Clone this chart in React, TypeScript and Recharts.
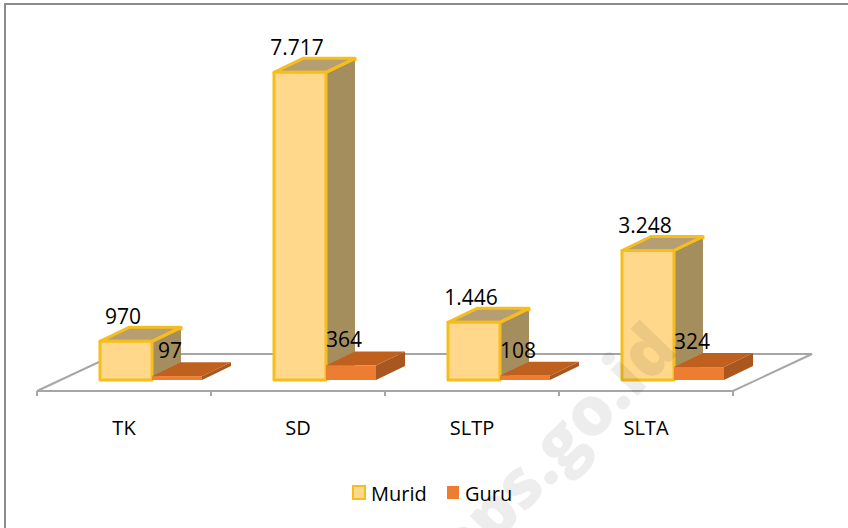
import { Bar, BarChart, LabelList, Legend, XAxis, YAxis, usePlotArea } from 'recharts'

const categories = ['TK', 'SD', 'SLTP', 'SLTA']
const muridValues = [970, 7717, 1446, 3248]
const guruValues = [97, 364, 108, 324]

const chartData = categories.map((name, i) => ({
  name,
  murid: muridValues[i],
  guru: guruValues[i],
}))

const FONT = '"Open Sans", sans-serif'
const depthX = 29
const depthY = -14
// the boxes stand in the middle of the floor, not on its front edge
const floorShift = 27

const muridColors = { front: '#FFD88C', side: '#A58E5E', top: '#B59E72', stroke: '#F6BE1C' }
const guruColors = { front: '#ED7D31', side: '#A9561F', top: '#C0601F', stroke: 'none' }

type BoxColors = typeof muridColors

function makeBox(colors: BoxColors) {
  return function Box(props: any) {
    const { x, y, width, height } = props
    const left = x + floorShift
    const right = left + width
    const bottom = y + height
    const line = colors.stroke === 'none' ? 0 : 3
    return (
      <g stroke={colors.stroke} strokeWidth={line} strokeLinejoin="round">
        <polygon
          points={`${right},${y} ${right + depthX},${y + depthY} ${right + depthX},${bottom + depthY} ${right},${bottom}`}
          fill={colors.side}
          stroke="none"
        />
        <polygon
          points={`${left},${y} ${left + depthX},${y + depthY} ${right + depthX},${y + depthY} ${right},${y}`}
          fill={colors.top}
        />
        <line x1={right} y1={y} x2={right + depthX} y2={y + depthY} />
        <line x1={right + depthX} y1={y + depthY} x2={right + depthX} y2={y + depthY + 3} />
        <rect x={left} y={y} width={width} height={height} fill={colors.front} />
      </g>
    )
  }
}

function makeValueLabel(shiftX: number, shiftY: number) {
  return function ValueLabel(props: any) {
    const { x, y, width, value } = props
    return (
      <text
        x={x + width / 2 + shiftX}
        y={y + shiftY}
        textAnchor="middle"
        dominantBaseline="central"
        fontFamily={FONT}
        fontSize={21}
        fill="#000"
      >
        {Number(value).toLocaleString('de-DE')}
      </text>
    )
  }
}

function Floor() {
  const plot = usePlotArea()
  if (!plot) return null
  const left = plot.x
  const right = plot.x + plot.width
  const front = plot.y + plot.height
  const back = front - 37
  const skew = 79
  const step = plot.width / categories.length
  return (
    <g stroke="#A6A6A6" strokeWidth={2} fill="none">
      <polyline points={`${left},${front} ${left + skew},${back} ${right + skew},${back} ${right},${front} ${left},${front}`} />
      {[0, 1, 2, 3, 4].map((i) => (
        <line key={i} x1={left + i * step} y1={front} x2={left + i * step} y2={front + 5} />
      ))}
    </g>
  )
}

// sits over the chart, the bars show through it
function Watermark() {
  return (
    <svg
      width={848}
      height={528}
      style={{ position: 'absolute', left: 0, top: 0, pointerEvents: 'none' }}
    >
      <text
        x={680}
        y={352}
        textAnchor="end"
        transform="rotate(-46 680 352)"
        fontFamily={FONT}
        fontWeight={800}
        fontSize={68}
        fill="#000"
        fillOpacity={0.07}
      >
        bps.go.id
      </text>
    </svg>
  )
}

function LegendRow() {
  const items = [
    { label: 'Murid', fill: muridColors.front, stroke: muridColors.stroke, swatchX: 352, textX: 371 },
    { label: 'Guru', fill: guruColors.front, stroke: 'none', swatchX: 446, textX: 465 },
  ]
  return (
    <svg width={848} height={40} style={{ display: 'block' }}>
      {items.map((item) => (
        <g key={item.label}>
          <rect
            x={item.swatchX + 1}
            y={7}
            width={12}
            height={13}
            fill={item.fill}
            stroke={item.stroke}
            strokeWidth={2}
          />
          <text x={item.textX} y={14} dominantBaseline="central" fontFamily={FONT} fontSize={20} fill="#000">
            {item.label}
          </text>
        </g>
      ))}
    </svg>
  )
}

export default function App() {
  return (
    <div
      style={{
        position: 'absolute',
        left: 0,
        top: 0,
        width: 848,
        height: 528,
        overflow: 'hidden',
        background: '#fff',
      }}
    >
      <div style={{ position: 'absolute', left: 4, top: 3, width: 844, height: 2, background: '#8C8C8C' }} />
      <div style={{ position: 'absolute', left: 4, top: 3, width: 2, height: 525, background: '#8C8C8C' }} />
      <BarChart
        width={848}
        height={528}
        data={chartData}
        barGap={0}
        barCategoryGap={0}
        margin={{ top: 61, right: 115, bottom: 0, left: 37 }}
      >
        <Floor />
        <XAxis
          dataKey="name"
          axisLine={false}
          tickLine={false}
          tickSize={5}
          height={97}
          tickMargin={25}
          tick={{ fontFamily: FONT, fontSize: 20, fill: '#000' }}
          interval={0}
        />
        <YAxis hide domain={[-276, 8000]} />
        <Bar dataKey="murid" barSize={52} isAnimationActive={false} shape={makeBox(muridColors)}>
          <LabelList dataKey="murid" content={makeValueLabel(24, -25)} />
        </Bar>
        <Bar dataKey="guru" barSize={50} isAnimationActive={false} shape={makeBox(guruColors)}>
          <LabelList dataKey="guru" content={makeValueLabel(20, -26)} />
        </Bar>
        <Legend
          content={<LegendRow />}
          wrapperStyle={{ position: 'absolute', left: 0, top: 479, width: 848 }}
        />
      </BarChart>
      <Watermark />
    </div>
  )
}
